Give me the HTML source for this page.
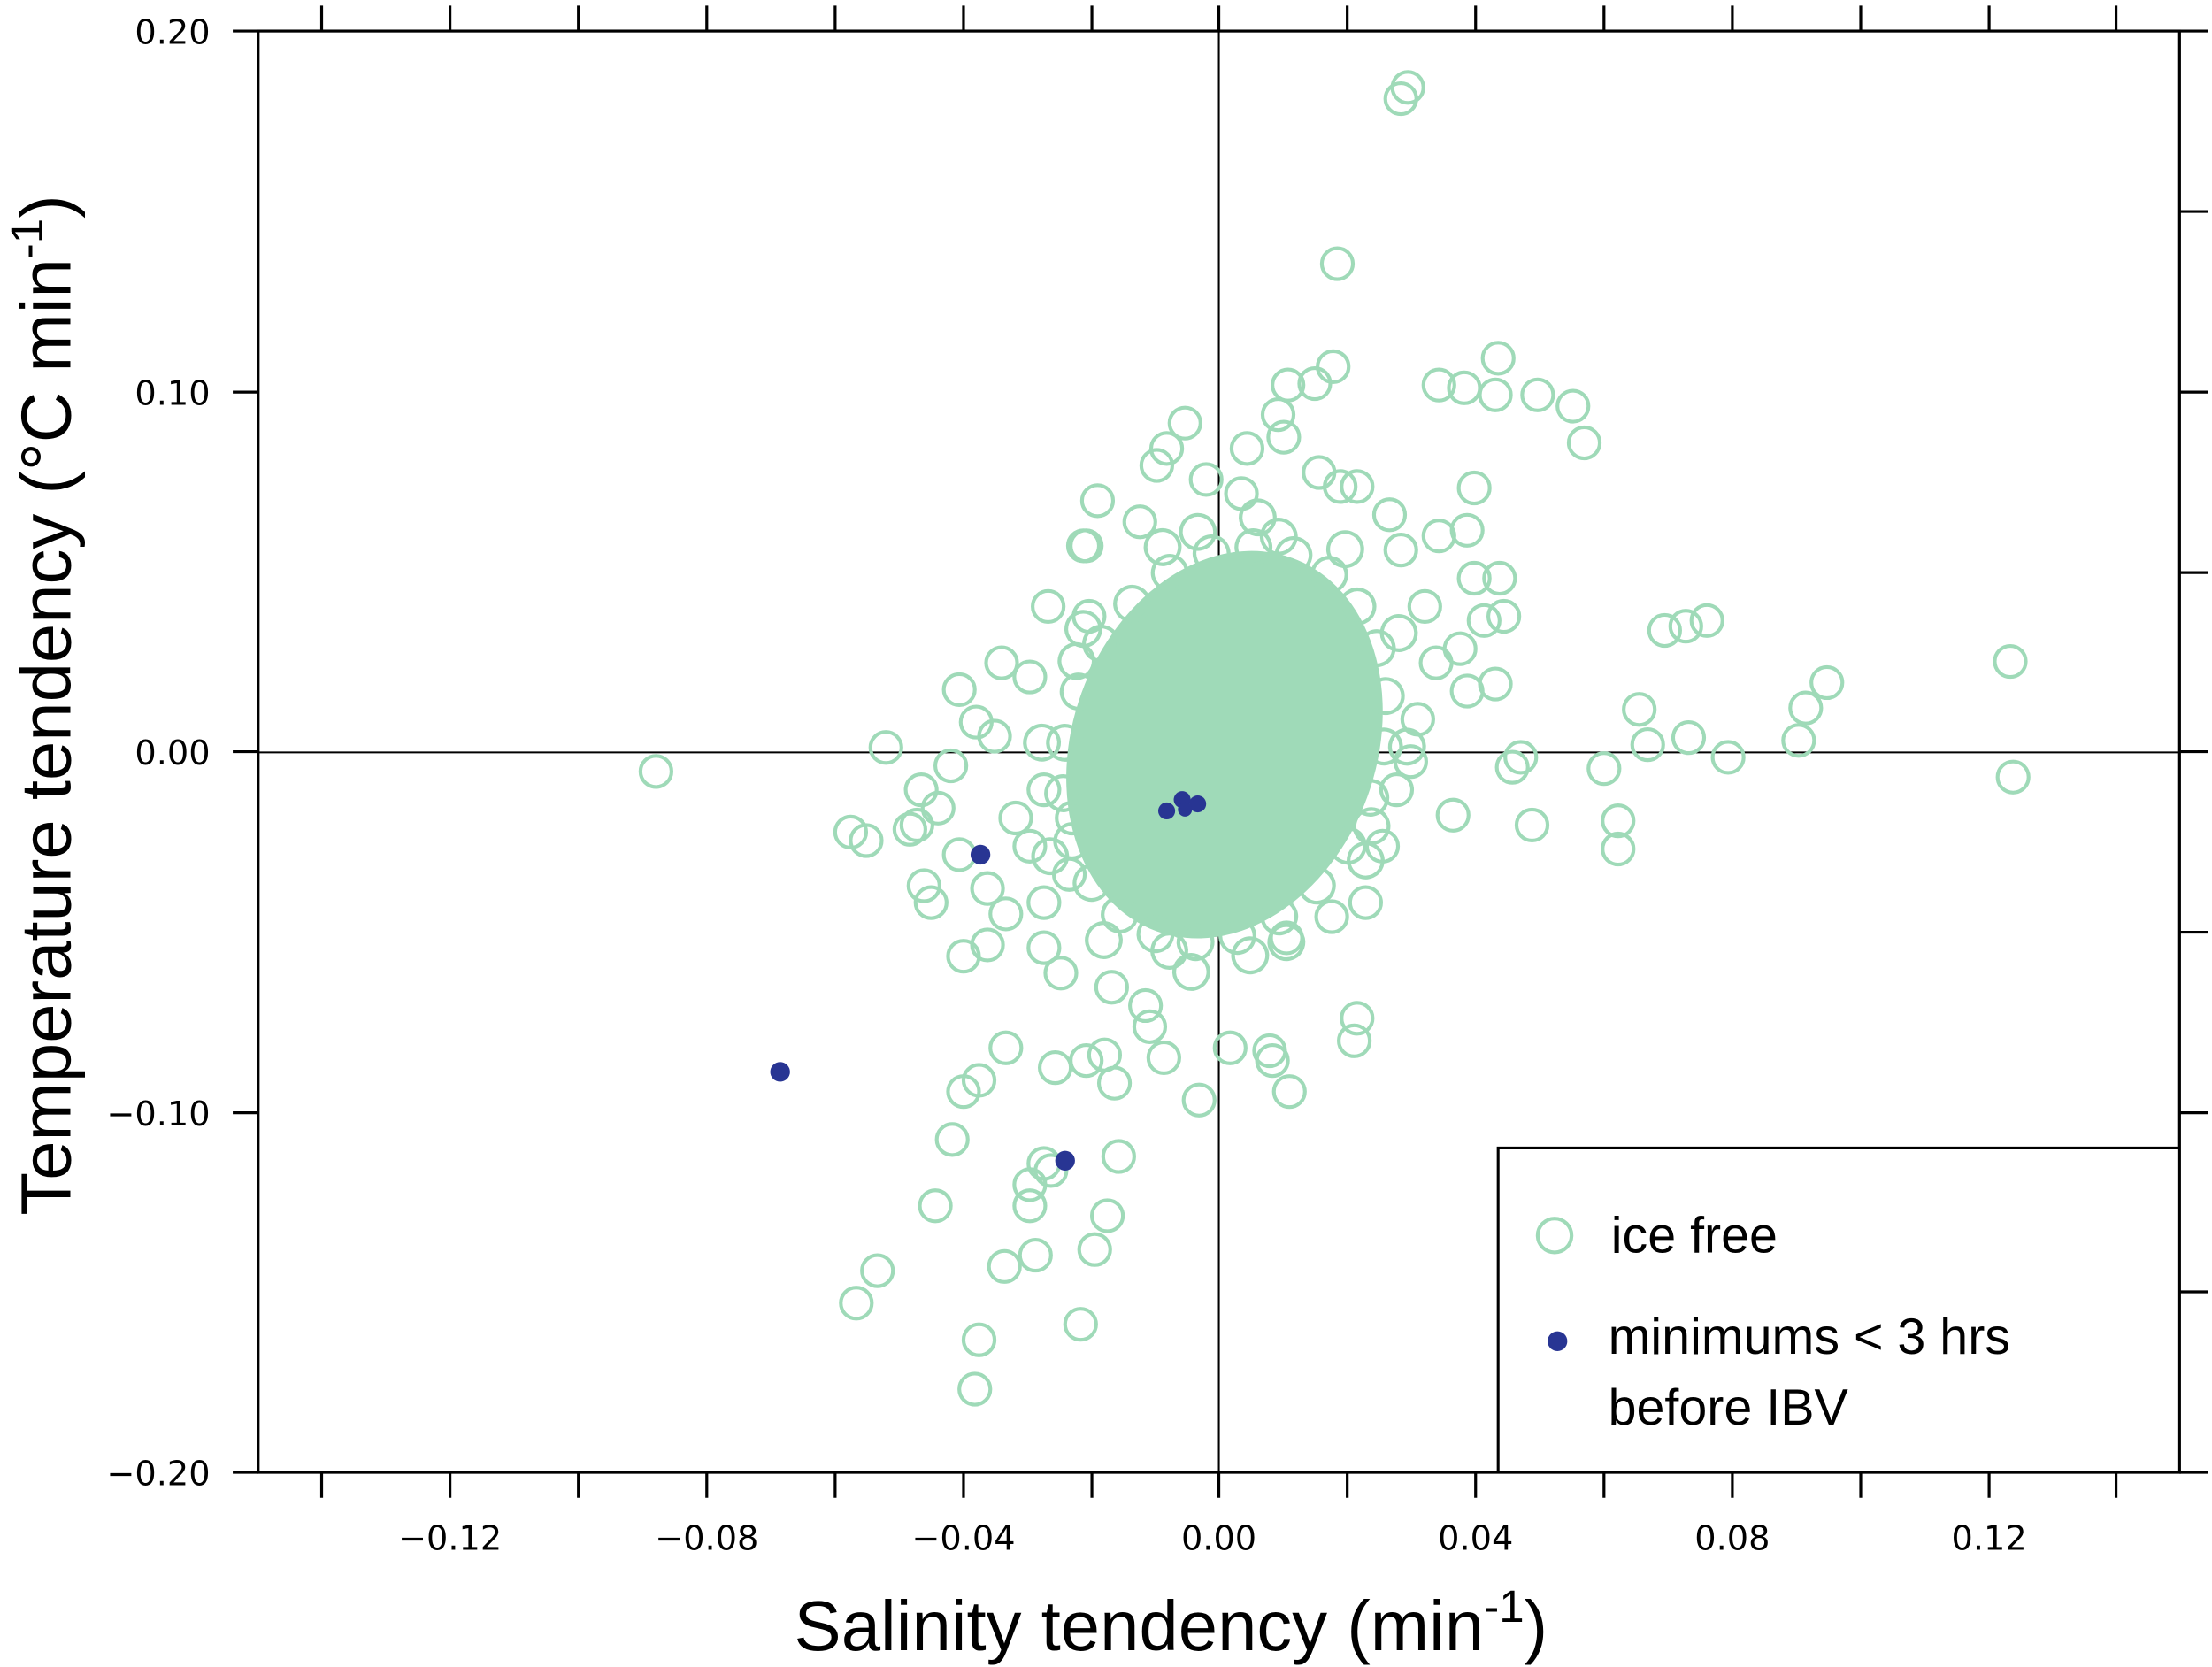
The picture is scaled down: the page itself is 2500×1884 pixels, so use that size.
<!DOCTYPE html>
<html><head><meta charset="utf-8"><style>
html,body{margin:0;padding:0;background:#fff;}
svg{display:block;}
text{font-family:"DejaVu Sans","Liberation Sans",sans-serif;fill:#000;}
</style></head><body>
<svg width="2500" height="1884" viewBox="0 0 1568 1182" preserveAspectRatio="none" xmlns="http://www.w3.org/2000/svg">
<rect width="1568" height="1182" fill="#fff"/>
<!-- zero lines -->
<line x1="183" y1="533.5" x2="1545" y2="533.5" stroke="#000" stroke-width="1.3"/>
<line x1="864" y1="22" x2="864" y2="1044" stroke="#000" stroke-width="1.3"/>
<!-- dense cloud -->
<g transform="rotate(20 868 528) translate(868 528) scale(1.1) translate(-868 -528)">
<ellipse cx="868" cy="528" rx="98" ry="128" fill="#9fdab8"/>
<g fill="none" stroke="#9fdab8" stroke-width="2.4">
<circle cx="968" cy="528" r="11"/><circle cx="965" cy="562" r="11"/><circle cx="955" cy="593" r="11"/>
<circle cx="939" cy="620" r="11"/><circle cx="918" cy="641" r="11"/><circle cx="894" cy="654" r="11"/>
<circle cx="868" cy="658" r="11"/><circle cx="842" cy="654" r="11"/><circle cx="818" cy="641" r="11"/>
<circle cx="797" cy="620" r="11"/><circle cx="781" cy="593" r="11"/><circle cx="771" cy="562" r="11"/>
<circle cx="768" cy="528" r="11"/><circle cx="771" cy="494" r="11"/><circle cx="781" cy="463" r="11"/>
<circle cx="797" cy="436" r="11"/><circle cx="818" cy="415" r="11"/><circle cx="842" cy="402" r="11"/>
<circle cx="868" cy="398" r="11"/><circle cx="894" cy="402" r="11"/><circle cx="918" cy="415" r="11"/>
<circle cx="939" cy="436" r="11"/><circle cx="955" cy="463" r="11"/><circle cx="965" cy="494" r="11"/>
<circle cx="979" cy="567" r="11"/><circle cx="949" cy="634" r="11"/><circle cx="898" cy="673" r="11"/>
<circle cx="838" cy="673" r="11"/><circle cx="787" cy="634" r="11"/><circle cx="757" cy="567" r="11"/>
<circle cx="757" cy="489" r="11"/><circle cx="787" cy="422" r="11"/><circle cx="838" cy="383" r="11"/>
<circle cx="898" cy="383" r="11"/><circle cx="949" cy="422" r="11"/><circle cx="979" cy="489" r="11"/>
<circle cx="975" cy="545" r="11"/><circle cx="760" cy="510" r="11"/><circle cx="930" cy="650" r="11"/>
<circle cx="805" cy="405" r="11"/><circle cx="880" cy="665" r="11"/><circle cx="855" cy="390" r="11"/>
</g>
</g>
<g fill="none" stroke="#9fdab8" stroke-width="2.6">
<circle cx="993" cy="70" r="11"/><circle cx="998" cy="62" r="11"/>
<circle cx="948" cy="187" r="11"/><circle cx="945" cy="260" r="11"/><circle cx="932" cy="272" r="11"/>
<circle cx="913" cy="273" r="11"/><circle cx="1062" cy="254" r="11"/><circle cx="1020" cy="273" r="11"/>
<circle cx="1038" cy="275" r="11"/><circle cx="1060" cy="280" r="11"/><circle cx="1090" cy="280" r="11"/>
<circle cx="1115" cy="288" r="11"/><circle cx="1123" cy="314" r="11"/><circle cx="906" cy="294" r="11"/>
<circle cx="910" cy="310" r="11"/><circle cx="884" cy="318" r="11"/><circle cx="840" cy="300" r="11"/>
<circle cx="827" cy="318" r="11"/><circle cx="778" cy="355" r="11"/><circle cx="808" cy="370" r="11"/>
<circle cx="768" cy="387" r="11"/><circle cx="1045" cy="346" r="11"/><circle cx="1020" cy="380" r="11"/>
<circle cx="1040" cy="376" r="11"/><circle cx="1063" cy="410" r="11"/><circle cx="1045" cy="410" r="11"/>
<circle cx="1066" cy="437" r="11"/><circle cx="1052" cy="440" r="11"/><circle cx="1035" cy="460" r="11"/>
<circle cx="1060" cy="485" r="11"/><circle cx="1040" cy="490" r="11"/><circle cx="1018" cy="470" r="11"/>
<circle cx="1195" cy="444" r="11"/><circle cx="1210" cy="440" r="11"/><circle cx="1180" cy="447" r="11"/>
<circle cx="1425" cy="469" r="11"/><circle cx="1295" cy="484" r="11"/><circle cx="1280" cy="502" r="11"/>
<circle cx="1275" cy="525" r="11"/><circle cx="1162" cy="503" r="11"/><circle cx="1197" cy="523" r="11"/>
<circle cx="1168" cy="528" r="11"/><circle cx="1225" cy="537" r="11"/><circle cx="1078" cy="537" r="11"/>
<circle cx="1072" cy="544" r="11"/><circle cx="1137" cy="545" r="11"/><circle cx="1427" cy="551" r="11"/>
<circle cx="1147" cy="582" r="11"/><circle cx="1147" cy="602" r="11"/><circle cx="1086" cy="585" r="11"/>
<circle cx="1030" cy="578" r="11"/><circle cx="1005" cy="510" r="11"/><circle cx="1000" cy="540" r="11"/>
<circle cx="990" cy="560" r="11"/><circle cx="980" cy="600" r="11"/><circle cx="968" cy="640" r="11"/>
<circle cx="944" cy="650" r="11"/><circle cx="912" cy="665" r="11"/><circle cx="962" cy="722" r="11"/>
<circle cx="960" cy="738" r="11"/><circle cx="872" cy="743" r="11"/><circle cx="900" cy="745" r="11"/>
<circle cx="902" cy="752" r="11"/><circle cx="914" cy="774" r="11"/><circle cx="850" cy="780" r="11"/>
<circle cx="825" cy="750" r="11"/><circle cx="815" cy="728" r="11"/><circle cx="812" cy="713" r="11"/>
<circle cx="788" cy="700" r="11"/><circle cx="465" cy="547" r="11"/><circle cx="628" cy="530" r="11"/>
<circle cx="603" cy="590" r="11"/><circle cx="614" cy="596" r="11"/><circle cx="645" cy="588" r="11"/>
<circle cx="650" cy="585" r="11"/><circle cx="665" cy="573" r="11"/><circle cx="653" cy="560" r="11"/>
<circle cx="674" cy="543" r="11"/><circle cx="680" cy="489" r="11"/><circle cx="692" cy="512" r="11"/>
<circle cx="705" cy="522" r="11"/><circle cx="710" cy="470" r="11"/><circle cx="730" cy="480" r="11"/>
<circle cx="743" cy="430" r="11"/><circle cx="772" cy="437" r="11"/><circle cx="770" cy="387" r="11"/>
<circle cx="680" cy="606" r="11"/><circle cx="700" cy="630" r="11"/><circle cx="655" cy="628" r="11"/>
<circle cx="660" cy="640" r="11"/><circle cx="713" cy="648" r="11"/><circle cx="700" cy="670" r="11"/>
<circle cx="683" cy="678" r="11"/><circle cx="740" cy="672" r="11"/><circle cx="752" cy="690" r="11"/>
<circle cx="730" cy="600" r="11"/><circle cx="740" cy="640" r="11"/><circle cx="758" cy="620" r="11"/>
<circle cx="713" cy="743" r="11"/><circle cx="748" cy="757" r="11"/><circle cx="770" cy="752" r="11"/>
<circle cx="783" cy="748" r="11"/><circle cx="790" cy="768" r="11"/><circle cx="683" cy="774" r="11"/>
<circle cx="694" cy="766" r="11"/><circle cx="675" cy="808" r="11"/><circle cx="663" cy="855" r="11"/>
<circle cx="740" cy="825" r="11"/><circle cx="745" cy="830" r="11"/><circle cx="730" cy="840" r="11"/>
<circle cx="730" cy="855" r="11"/><circle cx="793" cy="820" r="11"/><circle cx="785" cy="862" r="11"/>
<circle cx="776" cy="886" r="11"/><circle cx="734" cy="890" r="11"/><circle cx="712" cy="898" r="11"/>
<circle cx="622" cy="901" r="11"/><circle cx="607" cy="924" r="11"/><circle cx="766" cy="939" r="11"/>
<circle cx="694" cy="950" r="11"/><circle cx="691" cy="985" r="11"/>
<circle cx="740" cy="560" r="11"/><circle cx="760" cy="580" r="11"/><circle cx="720" cy="580" r="11"/>
<circle cx="950" cy="345" r="11"/><circle cx="935" cy="335" r="11"/><circle cx="962" cy="345" r="11"/>
<circle cx="985" cy="365" r="11"/><circle cx="993" cy="390" r="11"/><circle cx="1010" cy="430" r="11"/>
<circle cx="820" cy="330" r="11"/><circle cx="855" cy="340" r="11"/><circle cx="880" cy="350" r="11"/>
</g>
<!-- blue dots -->
<g fill="#283593">
<circle cx="827" cy="575" r="6"/><circle cx="838" cy="567" r="6"/><circle cx="849" cy="570" r="6"/><circle cx="840" cy="574" r="5"/>
<circle cx="695" cy="606" r="7"/><circle cx="553" cy="760" r="7"/><circle cx="755" cy="823" r="7"/>
</g>
<!-- frame -->
<rect x="183" y="22" width="1362" height="1022" fill="none" stroke="#000" stroke-width="2"/>
<!-- legend -->
<path d="M1062 1044 V814 H1545" fill="none" stroke="#000" stroke-width="2"/>
<rect x="1063" y="815" width="481" height="228" fill="#fff"/>
<circle cx="1102" cy="876" r="12" fill="none" stroke="#9fdab8" stroke-width="2.6"/>
<circle cx="1104" cy="951" r="7" fill="#283593"/>
<text x="1142" y="888" font-size="36" style="font-family:'Liberation Sans',sans-serif">ice free</text>
<text x="1140" y="960" font-size="36" style="font-family:'Liberation Sans',sans-serif">minimums &lt; 3 hrs</text>
<text x="1140" y="1010" font-size="36" style="font-family:'Liberation Sans',sans-serif">before IBV</text>
<!-- ticks -->
<g stroke="#000" stroke-width="2">
<path d="M228 1044v18M319 1044v18M410 1044v18M501 1044v18M592 1044v18M683 1044v18M774 1044v18M864 1044v18M955 1044v18M1046 1044v18M1137 1044v18M1228 1044v18M1319 1044v18M1410 1044v18M1500 1044v18"/>
<path d="M228 22v-18M319 22v-18M410 22v-18M501 22v-18M592 22v-18M683 22v-18M774 22v-18M864 22v-18M955 22v-18M1046 22v-18M1137 22v-18M1228 22v-18M1319 22v-18M1410 22v-18M1500 22v-18"/>
<path d="M183 22h-18M183 278h-18M183 533h-18M183 789h-18M183 1044h-18"/>
<path d="M1545 22h20M1545 150h20M1545 278h20M1545 406h20M1545 533h20M1545 661h20M1545 789h20M1545 916h20M1545 1044h20"/>
</g>
<g font-size="24" text-anchor="end">
<text x="149" y="31">0.20</text><text x="149" y="287">0.10</text><text x="149" y="542">0.00</text>
<text x="149" y="798">−0.10</text><text x="149" y="1053">−0.20</text>
</g>
<g font-size="24" text-anchor="middle">
<text x="319" y="1099">−0.12</text><text x="501" y="1099">−0.08</text><text x="683" y="1099">−0.04</text>
<text x="864" y="1099">0.00</text><text x="1046" y="1099">0.04</text><text x="1228" y="1099">0.08</text><text x="1410" y="1099">0.12</text>
</g>
<text x="830" y="1170" font-size="50" text-anchor="middle" style="font-family:'Liberation Sans',sans-serif">Salinity tendency (min<tspan dy="-20" font-size="32">-1</tspan><tspan dy="20">)</tspan></text>
<text transform="translate(50 500) rotate(-90)" font-size="50" text-anchor="middle" style="font-family:'Liberation Sans',sans-serif">Temperature tendency (°C min<tspan dy="-20" font-size="32">-1</tspan><tspan dy="20">)</tspan></text>
</svg>
</body></html>
